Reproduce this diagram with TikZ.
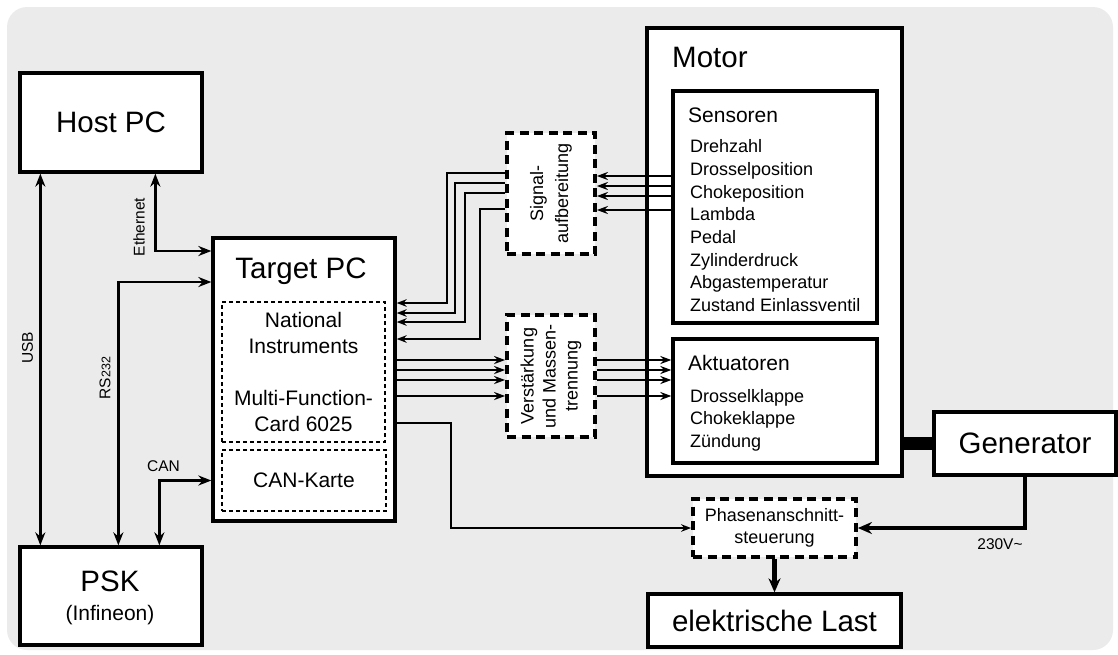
\documentclass[tikz,border=0pt]{standalone}
\usepackage{fontspec}
\setmainfont{Liberation Sans}
\usepackage{tikz}
\usetikzlibrary{arrows.meta}
\usetikzlibrary{positioning}
\definecolor{hgrund}{HTML}{EBEBEB}
\tikzset{
  kasten/.style={draw, line width=3.3pt, fill=white, inner sep=0pt, font=\fontsize{29.5}{34}\selectfont},
  titel/.style={inner sep=0pt, font=\fontsize{29.5}{34}\selectfont},
  stufe/.style={draw, line width=3.8pt, dash pattern=on 9pt off 5.5pt, fill=white, inner sep=0pt},
  karte/.style={draw, line width=1.3pt, dash pattern=on 4pt off 3pt, inner sep=0pt, align=center, font=\fontsize{21}{26}\selectfont},
  eintrag/.style={anchor=base west, inner sep=0pt, font=\fontsize{18}{22}\selectfont},
  marke/.style={inner sep=0pt, font=\fontsize{15.5}{18}\selectfont},
  pfeil/.style={-{Stealth[length=11pt, width=8pt]}, line width=2.4pt},
  duenn/.style={-{Stealth[length=10pt, width=7.5pt]}, line width=1.7pt},
  doppel/.style={{Stealth[length=13pt, width=10pt]}-{Stealth[length=13pt, width=10pt]}, line width=2.6pt},
  leistung/.style={-{Stealth[length=14pt, width=12pt]}, line width=4.3pt},
}

\begin{document}
\begin{tikzpicture}[x=1pt, y=-1pt]
  \useasboundingbox (0,0) rectangle (1118,654);
  \fill[hgrund, rounded corners=20pt] (7,7) rectangle (1113,650);

  % Rechner
  \node[kasten, minimum width=182pt, minimum height=99pt] (host) at (111,122.5) {Host PC};
  \node[kasten, minimum width=182pt, minimum height=98pt] (psk) at (111,596) {};
  \node[titel, anchor=base] (psktitel) at (110,591) {PSK};
  \node[titel, anchor=base, font=\fontsize{21}{25}\selectfont] (pskfirma) at (110,620) {(Infineon)};
  \node[kasten, minimum width=182pt, minimum height=283pt] (target) at (304,379.5) {};
  \node[titel, anchor=base] (targettitel) at (301,278) {Target PC};
  \node[karte, minimum width=163pt, minimum height=140pt] (ni) at (303.5,372) {National\\Instruments\\[26pt]Multi-Function-\\Card 6025};
  \node[karte, minimum width=164pt, minimum height=61pt] (cankarte) at (304,480.5) {CAN-Karte};

  % Stufen
  \node[stufe, minimum width=88pt, minimum height=121pt] (signal) at (551,193.5) {};
  \node[rotate=90, align=center, inner sep=0pt, font=\fontsize{18}{25}\selectfont] (signaltext) at (signal.center) {Signal-\\aufbereitung};
  \node[stufe, minimum width=88pt, minimum height=122pt] (verst) at (551,376) {};
  \node[rotate=90, align=center, inner sep=0pt, font=\fontsize{18}{22}\selectfont] (versttext) at (verst.center) {Verstärkung\\und Massen-\\trennung};
  \node[stufe, minimum width=163pt, minimum height=58pt, align=center, font=\fontsize{18}{22}\selectfont] (phasen) at (774.5,528) {Phasenanschnitt-\\steuerung};

  % Motor
  \node[kasten, minimum width=255pt, minimum height=448pt] (motor) at (774.5,252) {};
  \node[titel, anchor=base west] (motortitel) at (672,67) {Motor};
  \node[kasten, minimum width=204pt, minimum height=232pt] (sensoren) at (775,207) {};
  \node[eintrag, font=\fontsize{21}{25}\selectfont] (sensortitel) at (688,122.3) {Sensoren};
  \foreach \t [count=\i from 0] in {Drehzahl, Drosselposition, Chokeposition, Lambda, Pedal, Zylinderdruck, Abgastemperatur, Zustand Einlassventil}
    \node[eintrag] (sens\i) at (690,152.7+22.7*\i) {\t};
  \node[kasten, minimum width=204pt, minimum height=124pt] (akt) at (775,401) {};
  \node[eintrag, font=\fontsize{21}{25}\selectfont] (akttitel) at (688,370) {Aktuatoren};
  \foreach \t [count=\i from 0] in {Drosselklappe, Chokeklappe, Zündung}
    \node[eintrag] (akt\i) at (690,402+22.7*\i) {\t};
  \node[kasten, minimum width=182pt, minimum height=63pt] (generator) at (1025,443.5) {Generator};
  \node[kasten, minimum width=253pt, minimum height=53pt] (last) at (774.5,620.5) {elektrische Last};

  % Verbindungen
  \draw[doppel] ([xshift=22pt]host.south west) -- ([xshift=22pt]psk.north west);
  \draw[doppel] ([xshift=137pt]host.south west) |- (target.west |- 0,251);
  \draw[doppel] (target.west |- 0,282) -| ([xshift=100pt]psk.north west);
  \draw[doppel] (target.west |- cankarte) -| ([xshift=141pt]psk.north west);
  \node[marke, rotate=90] (usb) at (27.5,348) {USB};
  \node[marke, rotate=90] (eth) at (139,227) {Ethernet};
  \node[marke, rotate=90] (rs) at (105,378) {RS{\fontsize{12.5}{14}\selectfont 232}};
  \node[marke] (can) at (163.5,466) {CAN};

  \foreach \y in {176,186,196,210}
    \draw[pfeil] (sensoren.west |- 0,\y) -- (signal.east |- 0,\y);
  \foreach \y/\x/\z in {173/447/303, 183/455/313, 193/465/322, 209/480/339}
    \draw[duenn] (signal.west |- 0,\y) -| (\x,\z) -- (target.east |- 0,\z);
  \foreach \y in {360,370,380,396} {
    \draw[pfeil] (target.east |- 0,\y) -- (verst.west |- 0,\y);
    \draw[pfeil] (verst.east |- 0,\y) -- (akt.west |- 0,\y);
  }
  \draw[duenn] (target.east |- 0,423) -| ([xshift=-240pt]phasen.west) -- (phasen.west);

  \draw[line width=13pt] (motor.east |- generator.west) -- (generator.west);
  \draw[leistung] (generator.south) |- (phasen.east);
  \node[marke] (volt) at (1000,544) {230V\textasciitilde};
  \draw[leistung] (phasen.south) -- (last.north);
\end{tikzpicture}
\end{document}
